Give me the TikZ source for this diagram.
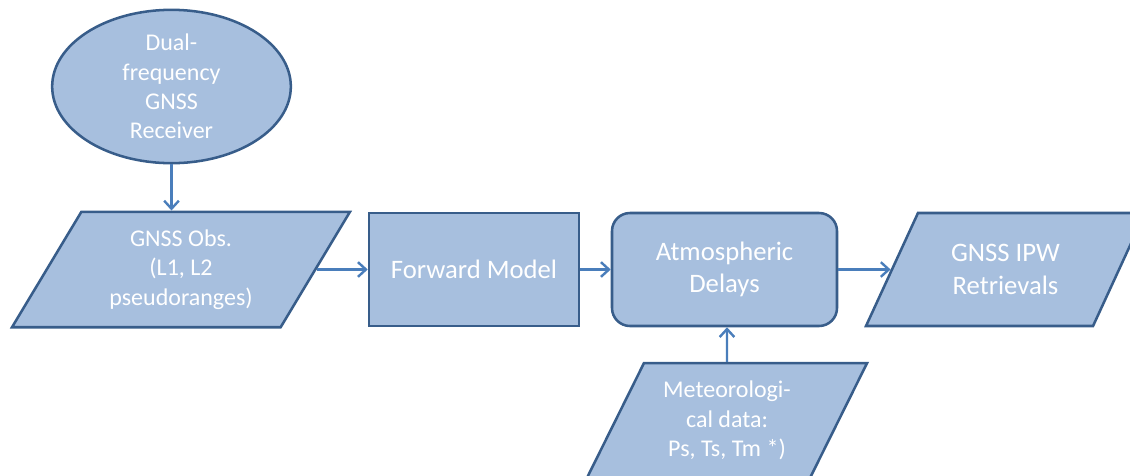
\documentclass[tikz,border=0pt]{standalone}
\usepackage{fontspec}
\setmainfont{Carlito}
\usetikzlibrary{arrows.meta,positioning,shapes.geometric}
\definecolor{boxfill}{HTML}{A7BFDE}
\definecolor{boxline}{HTML}{385D8A}
\definecolor{arline}{HTML}{4A7EBB}

\begin{document}
\begin{tikzpicture}[x=0.75pt,y=-0.75pt,
  base/.style={draw=boxline,line width=1.9pt,fill=boxfill,text=white,align=center,inner sep=0pt},
  small/.style={font=\fontsize{18}{22}\selectfont},
  large/.style={font=\fontsize{20}{24.4}\selectfont},
  io/.style={base,trapezium,trapezium stretches body,inner xsep=0pt,minimum height=84.75pt},
  proc/.style={base,rectangle,minimum height=84.75pt},
  ar/.style={-{Straight Barb[length=6pt,width=11pt]},draw=arline,line width=1.8pt}]
  \useasboundingbox (0,0) rectangle (1130,475);
  % receiver and inputs
  \node[base,small,ellipse,minimum width=179pt,minimum height=115pt] (rx) at (171.5,86.5) {Dual-\\frequency\\GNSS\\Receiver};
  \node[io,small,inner ysep=13.5pt,trapezium left angle=59,trapezium right angle=121,minimum width=253.5pt] (obs) at (181,269.5) {GNSS Obs.\\(L1, L2\\pseudoranges)};
  \node[io,small,inner ysep=13.5pt,trapezium left angle=63.6,trapezium right angle=116.4,minimum width=210pt] (met) at (727,420.5) {Meteorologi-\\cal data:\\Ps, Ts, Tm *)};
  % processing chain
  \node[proc,large,minimum width=157.5pt] (fwd) at (474,269.5) {Forward Model};
  \node[proc,large,rounded corners=13.5pt,minimum width=168.75pt] (atm) at (724.5,269.5) {Atmospheric\\Delays};
  \node[io,large,inner ysep=20.5pt,trapezium left angle=63.6,trapezium right angle=116.4,minimum width=209.25pt] (ipw) at (1005.5,269.5) {GNSS IPW\\Retrievals};
  % connectors
  \draw[ar] (rx.south) -- (rx.south |- obs.top side);
  \draw[ar] (obs.right side) -- (fwd.west);
  \draw[ar] (fwd.east) -- (atm.west);
  \draw[ar] (atm.east) -- (ipw.left side);
  \draw[ar] (met) -- (met |- atm.south);
\end{tikzpicture}
\end{document}
